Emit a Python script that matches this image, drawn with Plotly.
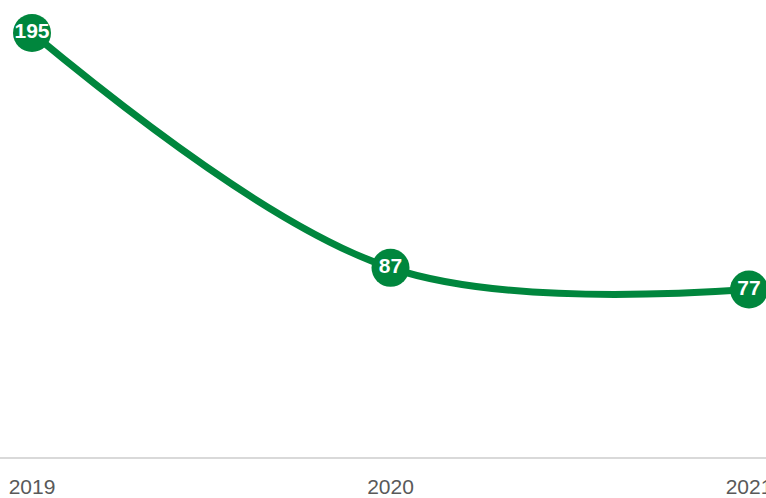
import plotly.graph_objects as go

years = ["2019", "2020", "2021"]
values = [195, 87, 77]

W, H = 766, 498
green = "#00863D"

fig = go.Figure()
fig.add_trace(go.Scatter(
    x=[0, 1, 2], y=values,
    mode="lines+markers+text",
    line=dict(color=green, width=7, shape="spline", smoothing=1.0),
    marker=dict(size=38, color=green, line=dict(width=0)),
    text=[str(v) for v in values],
    textposition="middle center",
    textfont=dict(family="Liberation Sans, Arial, sans-serif", size=21, color="white", weight="bold"),
    cliponaxis=False,
    hoverinfo="skip",
))

# x: 0 -> px 32, 2 -> px 749 over full width
scale_x = (749 - 32) / 2
x0 = -32 / scale_x
x1 = x0 + W / scale_x
# y: 0 -> px 457 (plot bottom), 195 -> px 33
plot_h = 457
scale_y = (457 - 33) / 195
y1 = plot_h / scale_y

fig.update_layout(
    width=W, height=H,
    margin=dict(l=0, r=0, t=0, b=H - plot_h, autoexpand=False),
    paper_bgcolor="white", plot_bgcolor="white",
    showlegend=False,
    xaxis=dict(
        range=[x0, x1], automargin=False,
        tickmode="array", tickvals=[0, 1, 2], ticktext=years,
        showgrid=False, zeroline=False,
        showline=True, linecolor="#d9d9d9", linewidth=1.5,
        ticks="", ticklabelstandoff=10, ticklabeloverflow="allow",
        tickfont=dict(family="Liberation Sans, Arial, sans-serif", size=21, color="#595959"),
    ),
    yaxis=dict(
        range=[0, y1], automargin=False,
        showgrid=False, zeroline=False, showline=False,
        showticklabels=False, ticks="",
    ),
)

fig.write_html(
    "out.html",
    config={"displayModeBar": False},
    post_script="document.body.style.margin='0';document.body.style.overflow='hidden';",
)
